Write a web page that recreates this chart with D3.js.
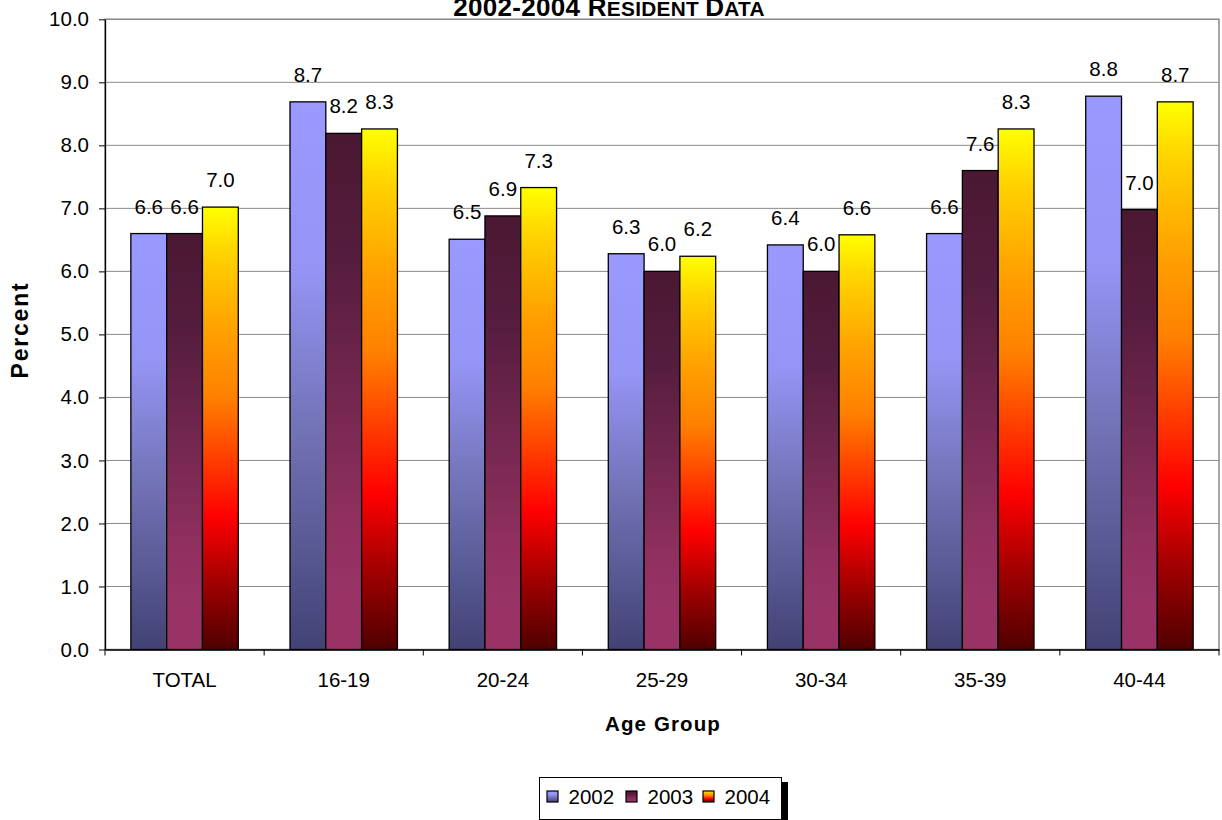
<!DOCTYPE html>
<html>
<head>
<meta charset="utf-8">
<script src="https://cdn.jsdelivr.net/npm/d3@7"></script>
<style>
  html, body { margin: 0; padding: 0; background: #fff; }
  svg { display: block; font-family: "Liberation Sans", Arial, sans-serif; }
</style>
</head>
<body>
<svg id="chart" width="1222" height="820"></svg>
<script>
// ---- Data ----
const categories = ["TOTAL", "16-19", "20-24", "25-29", "30-34", "35-39", "40-44"];
const seriesNames = ["2002", "2003", "2004"];
const values2002 = [6.6, 8.69, 6.51, 6.28, 6.42, 6.6, 8.78];
const values2003 = [6.6, 8.19, 6.88, 6.0, 6.0, 7.6, 6.98];
const values2004 = [7.02, 8.26, 7.33, 6.24, 6.58, 8.26, 8.69];
const yTicks = [0, 1, 2, 3, 4, 5, 6, 7, 8, 9, 10];

const seriesValues = [values2002, values2003, values2004];

// ---- Layout ----
const svg = d3.select("#chart");
const plot = { left: 105, right: 1219, top: 19.3, bottom: 649.5 };
const FS = 20.5;

const x = d3.scaleBand().domain(categories).range([plot.left, plot.right])
  .paddingInner(0.325).paddingOuter(0.1625);
const xs = d3.scaleBand().domain(seriesNames).range([0, x.bandwidth()]);
const y = d3.scaleLinear().domain([0, 10]).range([plot.bottom, plot.top]);

// ---- Gradients ----
const gradStops = {
  "2002": [[0, "#9999FF"], [0.3, "#9595F6"], [0.6, "#7272B6"], [1, "#424275"]],
  "2003": [[0, "#4A1832"], [0.25, "#561D3E"], [0.75, "#90305F"], [0.9, "#993366"], [1, "#993366"]],
  "2004": [[0, "#FFFF00"], [0.1, "#FFD400"], [0.28, "#FFA000"], [0.43, "#FF8000"], [0.7, "#FF0000"], [0.85, "#A00000"], [1, "#500000"]]
};
const defs = svg.append("defs");
seriesNames.forEach(s => {
  const g = defs.append("linearGradient").attr("id", "g" + s)
    .attr("x1", 0).attr("y1", 0).attr("x2", 0).attr("y2", 1);
  gradStops[s].forEach(([o, c]) => g.append("stop").attr("offset", o).attr("stop-color", c));
});

// ---- Plot border & gridlines ----
svg.append("rect")
  .attr("x", plot.left).attr("y", plot.top)
  .attr("width", plot.right - plot.left).attr("height", plot.bottom - plot.top)
  .attr("fill", "none").attr("stroke", "#8a8a8a").attr("stroke-width", 1.5);

svg.append("g").selectAll("line").data(yTicks.filter(t => t > 0)).join("line")
  .attr("x1", plot.left).attr("x2", plot.right)
  .attr("y1", d => y(d)).attr("y2", d => y(d))
  .attr("stroke", "#8a8a8a").attr("stroke-width", 1);

// ---- Bars ----
const groups = svg.append("g").selectAll("g").data(categories).join("g")
  .attr("transform", d => `translate(${x(d)},0)`);

groups.each(function (cat, i) {
  const g = d3.select(this);
  const items = seriesNames.map((s, k) => ({ s, v: seriesValues[k][i] }));
  g.selectAll("rect").data(items).join("rect")
    .attr("x", d => xs(d.s)).attr("width", xs.bandwidth())
    .attr("y", d => y(d.v)).attr("height", d => y(0) - y(d.v))
    .attr("fill", d => `url(#g${d.s})`)
    .attr("stroke", "#000").attr("stroke-width", 1.3);
  g.selectAll("text").data(items).join("text")
    .attr("x", d => xs(d.s) + xs.bandwidth() / 2)
    .attr("y", d => y(d.v) - 20)
    .attr("text-anchor", "middle")
    .attr("font-size", FS)
    .attr("fill", "#000")
    .text(d => d3.format(".1f")(d.v));
});

// ---- Y axis ----
const yAxis = svg.append("g").attr("transform", `translate(${plot.left},0)`)
  .call(d3.axisLeft(y).tickValues(yTicks).tickFormat(d3.format(".1f"))
    .tickSize(6).tickSizeOuter(0).tickPadding(10));
yAxis.select(".domain").attr("stroke", "#000").attr("stroke-width", 1.3);
yAxis.selectAll(".tick line").attr("stroke", "#000");
yAxis.selectAll(".tick text").attr("font-size", FS).attr("font-family", "Liberation Sans, Arial, sans-serif").attr("fill", "#000");

// ---- X axis ----
const xAxis = svg.append("g").attr("transform", `translate(0,${plot.bottom})`)
  .call(d3.axisBottom(x).tickSize(0).tickPadding(23));
xAxis.select(".domain").attr("stroke", "#000").attr("stroke-width", 1.3);
xAxis.selectAll(".tick text").attr("font-size", FS).attr("font-family", "Liberation Sans, Arial, sans-serif").attr("fill", "#000");

const halfGap = (x.step() - x.bandwidth()) / 2;
const boundaries = categories.map(c => x(c) - halfGap).concat([x(categories[categories.length - 1]) + x.bandwidth() + halfGap]);
svg.append("g").selectAll("line").data(boundaries).join("line")
  .attr("x1", d => d).attr("x2", d => d)
  .attr("y1", plot.bottom).attr("y2", plot.bottom + 6)
  .attr("stroke", "#000").attr("stroke-width", 1);

// ---- Axis titles ----
svg.append("text")
  .attr("x", (plot.left + plot.right) / 2 + 1).attr("y", 731)
  .attr("text-anchor", "middle").attr("font-size", FS).attr("font-weight", "bold")
  .attr("letter-spacing", 1.1)
  .text("Age Group");

svg.append("text")
  .attr("transform", `translate(28.4,330) rotate(-90)`)
  .attr("text-anchor", "middle").attr("font-size", 23).attr("font-weight", "bold")
  .attr("letter-spacing", 1.8)
  .text("Percent");

// ---- Title (small caps) ----
const titleParts = [["2002-2004 R", 1], ["ESIDENT ", 0.8], ["D", 1], ["ATA", 0.8]];
const title = svg.append("text")
  .attr("x", 609).attr("y", 15.7)
  .attr("text-anchor", "middle").attr("font-weight", "bold")
  .attr("letter-spacing", 0.3);
titleParts.forEach(([t, s]) => title.append("tspan").attr("font-size", 26 * s).text(t));

// ---- Legend ----
const legend = svg.append("g");
legend.append("rect").attr("x", 782).attr("y", 782).attr("width", 6).attr("height", 40).attr("fill", "#000");
legend.append("rect").attr("x", 539.5).attr("y", 777.5).attr("width", 242).attr("height", 42)
  .attr("fill", "#fff").attr("stroke", "#000").attr("stroke-width", 1);
const legendX = [547, 626, 703];
seriesNames.forEach((s, k) => {
  legend.append("rect").attr("x", legendX[k]).attr("y", 791).attr("width", 11).attr("height", 11)
    .attr("fill", `url(#g${s})`).attr("stroke", "#000").attr("stroke-width", 1.2);
  legend.append("text").attr("x", legendX[k] + 21.5).attr("y", 804)
    .attr("font-size", FS).attr("fill", "#000").text(s);
});
</script>
</body>
</html>
